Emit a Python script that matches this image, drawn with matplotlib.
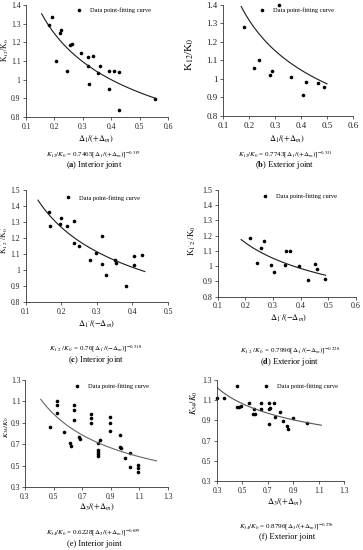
import numpy as np
import matplotlib
matplotlib.use('Agg')
import matplotlib.pyplot as plt
from matplotlib.lines import Line2D
from matplotlib.ticker import FormatStrFormatter

plt.rcParams['font.family'] = ['Liberation Serif', 'DejaVu Serif']
plt.rcParams['mathtext.fontset'] = 'stix'

# data
a_x = [0.180, 0.192, 0.206, 0.221, 0.223, 0.244, 0.256, 0.262, 0.295, 0.317, 0.317,
       0.336, 0.323, 0.352, 0.362, 0.393, 0.409, 0.393, 0.429, 0.429, 0.555]
a_y = [1.293, 1.338, 1.102, 1.248, 1.266, 1.045, 1.186, 1.191, 1.143, 1.123, 1.075,
       1.129, 0.979, 1.034, 1.072, 1.048, 1.046, 0.952, 1.039, 0.836, 0.895]

b_x = [0.182, 0.315, 0.220, 0.240, 0.281, 0.288, 0.362, 0.409, 0.420, 0.467, 0.490]
b_y = [1.282, 1.400, 1.058, 1.105, 1.020, 1.042, 1.009, 0.916, 0.985, 0.980, 0.955]

c_x = [0.166, 0.168, 0.199, 0.197, 0.216, 0.236, 0.236, 0.250, 0.280, 0.299, 0.315,
       0.316, 0.327, 0.350, 0.355, 0.381, 0.405, 0.405, 0.428]
c_y = [1.365, 1.277, 1.323, 1.290, 1.277, 1.308, 1.167, 1.150, 1.061, 1.108, 1.215,
       1.038, 0.969, 1.065, 1.044, 0.898, 1.088, 1.031, 1.094]

d_x = [0.218, 0.242, 0.257, 0.269, 0.294, 0.305, 0.346, 0.361, 0.343, 0.394, 0.452,
       0.459, 0.428, 0.488]
d_y = [1.183, 1.023, 1.122, 1.167, 1.005, 0.964, 1.103, 1.097, 1.005, 0.999, 1.016,
       0.984, 0.912, 0.916]

e_x = [0.475, 0.521, 0.521, 0.521, 0.574, 0.617, 0.624, 0.643, 0.643, 0.643, 0.677,
       0.682, 0.762, 0.762, 0.762, 0.808, 0.813, 0.813, 0.813, 0.813, 0.824, 0.895,
       0.895, 0.895, 0.962, 0.962, 0.969, 0.997, 1.033, 1.033, 1.091, 1.091, 1.091]
e_y = [0.859, 1.104, 1.067, 0.996, 0.819, 0.710, 0.685, 1.067, 1.020, 0.927, 0.772,
       0.747, 0.980, 0.943, 0.902, 0.716, 0.648, 0.632, 0.611, 0.592, 0.741, 0.958,
       0.896, 0.825, 0.788, 0.673, 0.663, 0.570, 0.623, 0.493, 0.508, 0.477, 0.446]

f_x = [0.300, 0.352, 0.457, 0.457, 0.475, 0.488, 0.549, 0.583, 0.588, 0.601, 0.646,
       0.646, 0.711, 0.711, 0.711, 0.719, 0.750, 0.758, 0.792, 0.818, 0.850, 0.855,
       0.897, 1.007]
f_y = [1.125, 1.125, 1.241, 1.029, 1.036, 1.043, 1.069, 0.960, 1.010, 0.960, 1.069,
       1.010, 1.069, 1.010, 0.861, 1.026, 1.069, 0.937, 0.986, 0.894, 0.845, 0.812,
       0.927, 0.871]

# fitted power curves K = coef * x ** expo, drawn over the x range shown
fit_coef = [0.7465, 0.7743, 0.76, 0.7996, 0.6228, 0.8796]
fit_expo = [-0.319, -0.331, -0.318, -0.228, -0.659, -0.276]
fit_from = [0.155, 0.17, 0.135, 0.185, 0.41, 0.30]
fit_to = [0.56, 0.50, 0.435, 0.49, 1.22, 1.12]

# tick values
xt_small = [0.1, 0.2, 0.3, 0.4, 0.5, 0.6]
xt_c = [0.1, 0.2, 0.3, 0.4, 0.5]
yt_ab = [0.8, 0.9, 1.0, 1.1, 1.2, 1.3, 1.4]
yt_cd = [0.8, 0.9, 1.0, 1.1, 1.2, 1.3, 1.4, 1.5]
t_ef = [0.3, 0.5, 0.7, 0.9, 1.1, 1.3]

ylabels = [r'K$_{12}$/K$_{0}$', r'K$_{12}$/K$_{0}$', r"K$_{1'2'}$/K$_{0'}$",
           r"K$_{1'2'}$/K$_{0'}$", r'$K_{34}/K_{0}$', r'$K_{34}/K_{0}$']
xlabels = [r'$\mathit{\Delta}_1/(+\mathit{\Delta}_m)$', r'$\mathit{\Delta}_1/(+\mathit{\Delta}_m)$',
           r"$\mathit{\Delta}_{1'}/(-\mathit{\Delta}_m)$", r"$\mathit{\Delta}_{1'}/(-\mathit{\Delta}_m)$",
           r'$\mathit{\Delta}_3/(+\mathit{\Delta}_m)$', r'$\mathit{\Delta}_3/(+\mathit{\Delta}_m)$']
formulas = [r'$K_{12}/K_0$ = 0.7465[$\mathit{\Delta}_1/(+\mathit{\Delta}_m)$]$^{-0.319}$',
            r'$K_{12}/K_0$ = 0.7743[$\mathit{\Delta}_1/(+\mathit{\Delta}_m)$]$^{-0.331}$',
            r"$K_{1'2'}/K_{0'}$ = 0.76[$\mathit{\Delta}_{1'}/(-\mathit{\Delta}_m)$]$^{-0.318}$",
            r"$K_{1'2'}/K_{0'}$ = 0.7996[$\mathit{\Delta}_{1'}/(-\mathit{\Delta}_m)$]$^{-0.228}$",
            r'$K_{34}/K_0$ = 0.6228[$\mathit{\Delta}_3/(+\mathit{\Delta}_m)$]$^{-0.659}$',
            r'$K_{34}/K_0$ = 0.8796[$\mathit{\Delta}_3/(+\mathit{\Delta}_m)$]$^{-0.276}$']
captions = [r'($\mathbf{a}$) Interior joint', r'($\mathbf{b}$) Exterior joint',
            r'($\mathbf{c}$) Interior joint', r'($\mathbf{d}$) Exterior joint',
            r'(e) Interior joint', r'(f) Exterior joint']

xs = [a_x, b_x, c_x, d_x, e_x, f_x]
ys = [a_y, b_y, c_y, d_y, e_y, f_y]
xticks = [xt_small, xt_small, xt_c, xt_small, t_ef, t_ef]
yticks = [yt_ab, yt_ab, yt_cd, yt_cd, t_ef, t_ef]

W, H = 363, 550

# layout in pixels: axes box, label spots
boxes = [(26, 5, 168, 117), (223, 5, 353, 116), (25.5, 190, 168, 302),
         (217.7, 190, 356, 296.7), (25, 380, 168, 487.3), (217, 380, 344.3, 481)]
tick_fs = [5.5, 6.5, 5.5, 5.8, 5.5, 5.5]
ylab_fs = [5.5, 8, 5.5, 6.5, 5.4, 6]
ylab_pos = [(-0.105, 0.6), (-0.21, 0.56), (-0.11, 0.55), (-0.145, 0.53),
            (-0.1, 0.565), (-0.13, 0.77)]
ypad = [2, 2, 2, 2, 1.2, 2]
xlab_pos = [(0.49, -0.15), (0.49, -0.16), (0.5, -0.15), (0.51, -0.15),
            (0.5, -0.14), (0.53, -0.16)]
leg_pos = [(0.373, 0.955), (0.30, 0.955), (0.30, 0.93), (0.34, 0.944),
           (0.366, 0.944), (0.385, 0.94)]
# x centre, formula baseline, caption baseline
text_pos = [(94, 156, 167), (285, 156, 167), (96, 350.5, 361.5),
            (290, 352.5, 363.5), (94, 535, 546), (287, 528.5, 539)]
curve_col = ['#1a1a1a', '#1a1a1a', '#1a1a1a', '#1a1a1a', '#666666', '#555555']

fig = plt.figure(figsize=(W / 100, H / 100), dpi=100)

for i in range(6):
    x1, y1, x2, y2 = boxes[i]
    ax = fig.add_axes([x1 / W, 1 - y2 / H, (x2 - x1) / W, (y2 - y1) / H])
    ax.plot(xs[i], ys[i], 'o', color='black', ms=2.6, mec='none', clip_on=False)
    xf = np.linspace(fit_from[i], fit_to[i], 100)
    ax.plot(xf, fit_coef[i] * xf ** fit_expo[i], color=curve_col[i], lw=0.8)

    ax.set_xticks(xticks[i])
    ax.set_yticks(yticks[i])
    ax.set_xlim(xticks[i][0], xticks[i][-1])
    ax.set_ylim(yticks[i][0], yticks[i][-1])
    ax.xaxis.set_major_formatter(FormatStrFormatter('%g'))
    ax.yaxis.set_major_formatter(FormatStrFormatter('%g'))
    ax.spines['top'].set_visible(False)
    ax.spines['right'].set_visible(False)
    for s in ('left', 'bottom'):
        ax.spines[s].set_linewidth(0.6)
        ax.spines[s].set_color('#333333')
    ax.tick_params(direction='out', length=2, width=0.5, pad=2,
                   labelsize=tick_fs[i], colors='#222222')
    ax.tick_params(axis='y', pad=ypad[i])

    ax.set_ylabel(ylabels[i], fontsize=ylab_fs[i])
    ax.yaxis.set_label_coords(*ylab_pos[i])
    ax.set_xlabel(xlabels[i], fontsize=6)
    ax.xaxis.set_label_coords(*xlab_pos[i])

    h = Line2D([], [], ls='none', marker='o', color='black', ms=2.6, mec='none')
    lx, ly = leg_pos[i]
    ax.legend([h], ['Data point-fitting curve'], loc='center left',
              bbox_to_anchor=(lx - 0.022, ly), frameon=False, fontsize=4.6,
              handlelength=1, handletextpad=1.2, borderpad=0, borderaxespad=0)

    tx, fy, cy = text_pos[i]
    fig.text(tx / W, 1 - fy / H, formulas[i], ha='center', va='baseline', fontsize=5)
    fig.text(tx / W, 1 - cy / H, captions[i], ha='center', va='baseline', fontsize=6)

fig.savefig('out.png', dpi=100)
